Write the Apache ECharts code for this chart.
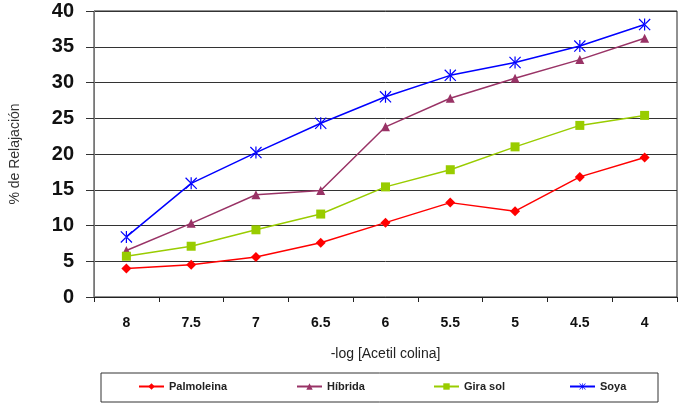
<!DOCTYPE html>
<html>
<head>
<meta charset="utf-8">
<script src="https://cdn.jsdelivr.net/npm/echarts@6/dist/echarts.min.js"></script>
<style>
  html, body { margin: 0; padding: 0; background: #fff; }
  #chart { width: 686px; height: 420px; }
</style>
</head>
<body>
<div id="chart"></div>
<script>
// categorias del eje x
const categorias = ['8', '7.5', '7', '6.5', '6', '5.5', '5', '4.5', '4']

// % de relajacion por aceite
const palmoleina = [4.0, 4.5, 5.6, 7.6, 10.4, 13.2, 12.0, 16.8, 19.5]
const hibrida = [6.5, 10.3, 14.3, 14.9, 23.8, 27.8, 30.6, 33.2, 36.2]
const girasol = [5.7, 7.1, 9.4, 11.6, 15.4, 17.8, 21.0, 24.0, 25.4]
const soya = [8.4, 15.9, 20.2, 24.3, 28.0, 31.0, 32.8, 35.1, 38.1]

const fuente = "'Liberation Sans', Arial, sans-serif"
// asterisco de Excel (X con barra vertical)
const asterisco = 'path://M4.5,0 L5.5,0 L5.5,10 L4.5,10 Z M0,0.7 L0.7,0 L10,9.3 L9.3,10 Z M10,0.7 L9.3,0 L0,9.3 L0.7,10 Z'

const chart = echarts.init(document.getElementById('chart'))

const legendBase = {
    top: 381,
    padding: 0,
    itemWidth: 25,
    itemHeight: 8,
    itemGap: 5,
    textStyle: { fontFamily: fuente, fontSize: 11, fontWeight: 'bold', color: '#222' }
}

const option = {
    animation: false,
    backgroundColor: '#fff',
    grid: {
        left: 90,
        right: 9,
        top: 11,
        bottom: 123,
        show: true,
        borderColor: '#222',
        borderWidth: 1
    },
    legend: [
        Object.assign({ left: 138, data: ['Palmoleina'] }, legendBase),
        Object.assign({ left: 296, data: ['Híbrida'] }, legendBase),
        Object.assign({ left: 433, data: ['Gira sol'] }, legendBase),
        Object.assign({ left: 569, data: ['Soya'] }, legendBase)
    ],
    graphic: [{
        type: 'rect',
        shape: { x: 101, y: 373, width: 557, height: 29 },
        style: { fill: 'none', stroke: '#333', lineWidth: 1 },
        silent: true
    }],
    xAxis: {
        type: 'category',
        data: categorias,
        boundaryGap: true,
        name: '-log [Acetil colina]',
        nameLocation: 'middle',
        nameGap: 50,
        nameTextStyle: { fontFamily: fuente, fontSize: 14, color: '#222' },
        axisLine: { lineStyle: { color: '#222', width: 1 } },
        axisTick: { show: true, length: 5, lineStyle: { color: '#222' } },
        axisLabel: {
            margin: 19,
            fontFamily: fuente,
            fontSize: 14,
            fontWeight: 'bold',
            color: '#111'
        },
        splitLine: { show: false }
    },
    yAxis: {
        type: 'value',
        min: 0,
        max: 40,
        interval: 5,
        name: '% de Relajación',
        nameLocation: 'middle',
        nameRotate: 90,
        nameGap: 72,
        nameTextStyle: { fontFamily: fuente, fontSize: 14, color: '#333' },
        axisLine: { show: true, lineStyle: { color: '#777', width: 1 } },
        axisTick: { show: true, length: 8, lineStyle: { color: '#333' } },
        axisLabel: {
            margin: 20,
            fontFamily: fuente,
            fontSize: 20,
            fontWeight: 'bold',
            color: '#111'
        },
        splitLine: { show: true, lineStyle: { color: '#333', width: 1 } }
    },
    series: [
        {
            name: 'Palmoleina',
            type: 'line',
            data: palmoleina,
            symbol: 'diamond',
            symbolSize: 10,
            color: '#ff0000',
            lineStyle: { width: 1.5 }
        },
        {
            name: 'Híbrida',
            type: 'line',
            data: hibrida,
            symbol: 'triangle',
            symbolSize: 9,
            color: '#993366',
            lineStyle: { width: 1.5 }
        },
        {
            name: 'Gira sol',
            type: 'line',
            data: girasol,
            symbol: 'rect',
            symbolSize: 9,
            color: '#99cc00',
            lineStyle: { width: 1.5 }
        },
        {
            name: 'Soya',
            type: 'line',
            data: soya,
            symbol: asterisco,
            symbolSize: 12,
            color: '#0000ff',
            lineStyle: { width: 1.5 }
        }
    ]
}

chart.setOption(option)
</script>
</body>
</html>
